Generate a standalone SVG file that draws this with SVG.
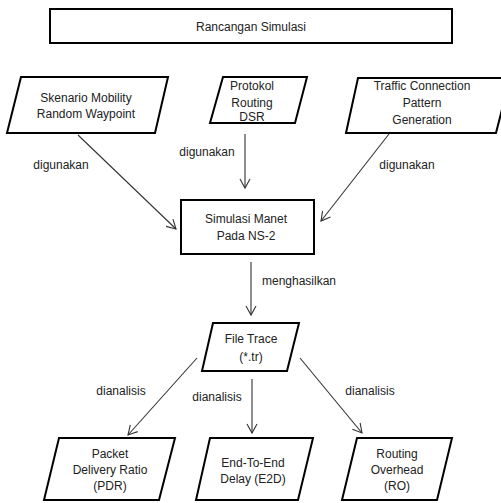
<svg xmlns="http://www.w3.org/2000/svg" width="501" height="503" viewBox="0 0 501 503">
<defs>
<marker id="arr" markerUnits="userSpaceOnUse" markerWidth="14" markerHeight="14" viewBox="-10 -7 12 14" refX="0" refY="0" orient="auto">
<path d="M-9,-5 L0,0 L-9,5" fill="none" stroke="#333" stroke-width="1.1"/>
</marker>
</defs>
<style>
.box{fill:#fff;stroke:#000;stroke-width:2}
.t{font-family:"Liberation Sans",Arial,sans-serif;font-size:12px;fill:#222;text-anchor:middle}
.l{font-family:"Liberation Sans",Arial,sans-serif;font-size:12px;fill:#222;text-anchor:middle}
.c{stroke:#333;stroke-width:1.1;fill:none;marker-end:url(#arr)}
</style>
<rect width="501" height="503" fill="#fff"/>
<g id="rancangan">
<rect class="box" x="50" y="9" width="402" height="34"/>
<text class="t" x="251" y="31">Rancangan Simulasi</text>
</g>
<g id="skenario">
<polygon class="box" points="21,77 168,77 155,133 7,133"/>
<text class="t" x="86" y="102">Skenario Mobility</text>
<text class="t" x="86" y="118">Random Waypoint</text>
</g>
<g id="protokol">
<polygon class="box" points="223,77 307,77 295,123 210,123"/>
<text class="t" x="252" y="90">Protokol</text>
<text class="t" x="252" y="107">Routing</text>
<text class="t" x="252" y="121">DSR</text>
</g>
<g id="traffic">
<polygon class="box" points="358,78 510,78 496,133 346,133"/>
<text class="t" x="422" y="90">Traffic Connection</text>
<text class="t" x="422" y="107">Pattern</text>
<text class="t" x="422" y="124">Generation</text>
</g>
<g id="simulasi">
<rect class="box" x="181" y="200" width="133" height="54"/>
<text class="t" x="246" y="223">Simulasi Manet</text>
<text class="t" x="246" y="240">Pada NS-2</text>
</g>
<g id="filetrace">
<polygon class="box" points="213,323 299,323 287,371 202,371"/>
<text class="t" x="251" y="343">File Trace</text>
<text class="t" x="251" y="361">(*.tr)</text>
</g>
<g id="pdr">
<polygon class="box" points="59,438 175,438 159,500 44,500"/>
<text class="t" x="110" y="458">Packet</text>
<text class="t" x="110" y="474">Delivery Ratio</text>
<text class="t" x="110" y="490">(PDR)</text>
</g>
<g id="e2d">
<polygon class="box" points="210,438 313,438 298,500 196,500"/>
<text class="t" x="253" y="467">End-To-End</text>
<text class="t" x="253" y="483">Delay (E2D)</text>
</g>
<g id="ro">
<polygon class="box" points="357,438 452,438 437,500 342,500"/>
<text class="t" x="397" y="458">Routing</text>
<text class="t" x="397" y="474">Overhead</text>
<text class="t" x="397" y="490">(RO)</text>
</g>
<g id="connectors">
<line class="c" x1="78" y1="135" x2="176" y2="229"/>
<line class="c" x1="245" y1="134" x2="245" y2="188"/>
<line class="c" x1="389" y1="134" x2="321" y2="221"/>
<line class="c" x1="251" y1="262" x2="251" y2="315"/>
<line class="c" x1="197" y1="358" x2="128" y2="435"/>
<line class="c" x1="252" y1="379" x2="252" y2="433"/>
<line class="c" x1="300" y1="358" x2="362" y2="433"/>
<text class="l" x="61" y="169">digunakan</text>
<text class="l" x="207" y="156">digunakan</text>
<text class="l" x="407" y="169">digunakan</text>
<text class="l" x="299" y="285">menghasilkan</text>
<text class="l" x="121" y="395">dianalisis</text>
<text class="l" x="217" y="401">dianalisis</text>
<text class="l" x="370" y="395">dianalisis</text>
</g>
</svg>
